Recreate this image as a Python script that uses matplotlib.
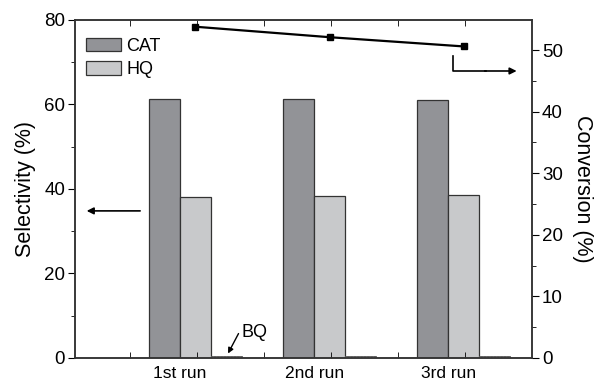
import numpy as np
import matplotlib
matplotlib.use("Agg")
import matplotlib.pyplot as plt

plt.rcParams['font.family'] = ['Liberation Sans', 'DejaVu Sans']

runs = ['1st run', '2nd run', '3rd run']
cat = [61.3, 61.3, 61.1]
hq = [38.2, 38.4, 38.6]
bq = [0.4, 0.4, 0.4]
conversion = [53.8, 52.1, 50.6]

x = np.arange(1, len(runs) + 1)
w = 0.232

fig = plt.figure(figsize=(5.98, 3.84), dpi=100)
ax = fig.add_subplot(111)
fig.subplots_adjust(left=0.125, right=0.890, bottom=0.068, top=0.948)

ax.bar(x - w / 2, cat, w, color='#929397', edgecolor='#333333', linewidth=0.9, label='CAT')
ax.bar(x + w / 2, hq, w, color='#c8c9cb', edgecolor='#333333', linewidth=0.9, label='HQ')
ax.bar(x + 1.5 * w, bq, w, color='#d8d8d8', edgecolor='#555555', linewidth=0.6, hatch='.....')

ax.set_xlim(0.216, 3.626)
ax.set_ylim(0, 80)
ax.set_xticks(x)
ax.set_xticklabels(runs, fontsize=12.5)
ax.set_xticks(np.arange(0.627, 3.6, 0.5), minor=True)
ax.tick_params(axis='x', which='major', length=0, pad=6)
ax.tick_params(axis='x', which='minor', direction='in', length=4, top=True, bottom=True)
ax.set_yticks([0, 20, 40, 60, 80])
ax.set_yticks([10, 30, 50, 70], minor=True)
ax.tick_params(axis='y', which='major', direction='out', length=5, labelsize=13.5, pad=2)
ax.tick_params(axis='y', which='minor', direction='out', length=3)
ax.set_ylabel('Selectivity (%)', fontsize=15.5, labelpad=6)

ax.legend(loc='upper left', bbox_to_anchor=(-0.01, 0.995), frameon=False, fontsize=13,
          handlelength=1.9, handleheight=0.75, handletextpad=0.3, labelspacing=0.35)

ax2 = ax.twinx()
ax2.plot(x + w / 2, conversion, color='black', marker='s', markersize=5, linewidth=1.6)
ax2.set_ylim(0, 54.9)
ax2.set_yticks([0, 10, 20, 30, 40, 50])
ax2.set_yticks([5, 15, 25, 35, 45], minor=True)
ax2.tick_params(axis='y', which='major', direction='out', length=5, labelsize=13.5, pad=2)
ax2.tick_params(axis='y', which='minor', direction='out', length=3)
ax2.set_ylabel('Conversion (%)', fontsize=15.5, rotation=270, labelpad=22)

for a in (ax, ax2):
    for s in a.spines.values():
        s.set_linewidth(1.1)
        s.set_color('#333333')

# arrows pointing to the axes
ax.annotate('', xy=(0.020, 0.435), xytext=(0.149, 0.435), xycoords='axes fraction',
            arrowprops=dict(arrowstyle='-|>', color='black', lw=1.2, mutation_scale=10))
ax.plot([0.827, 0.827, 0.90], [0.893, 0.849, 0.849], color='black', lw=1.2,
        transform=ax.transAxes, clip_on=False)
ax.annotate('', xy=(0.972, 0.849), xytext=(0.89, 0.849), xycoords='axes fraction',
            arrowprops=dict(arrowstyle='-|>', color='black', lw=1.2, mutation_scale=10))
ax.text(0.364, 0.074, 'BQ', fontsize=13, va='center', ha='left', transform=ax.transAxes)
ax.annotate('', xy=(0.335, 0.013), xytext=(0.358, 0.072), xycoords='axes fraction',
            arrowprops=dict(arrowstyle='-|>', color='black', lw=1.0, mutation_scale=8,
                            shrinkA=0, shrinkB=0))

fig.savefig('out.png', dpi=100)
